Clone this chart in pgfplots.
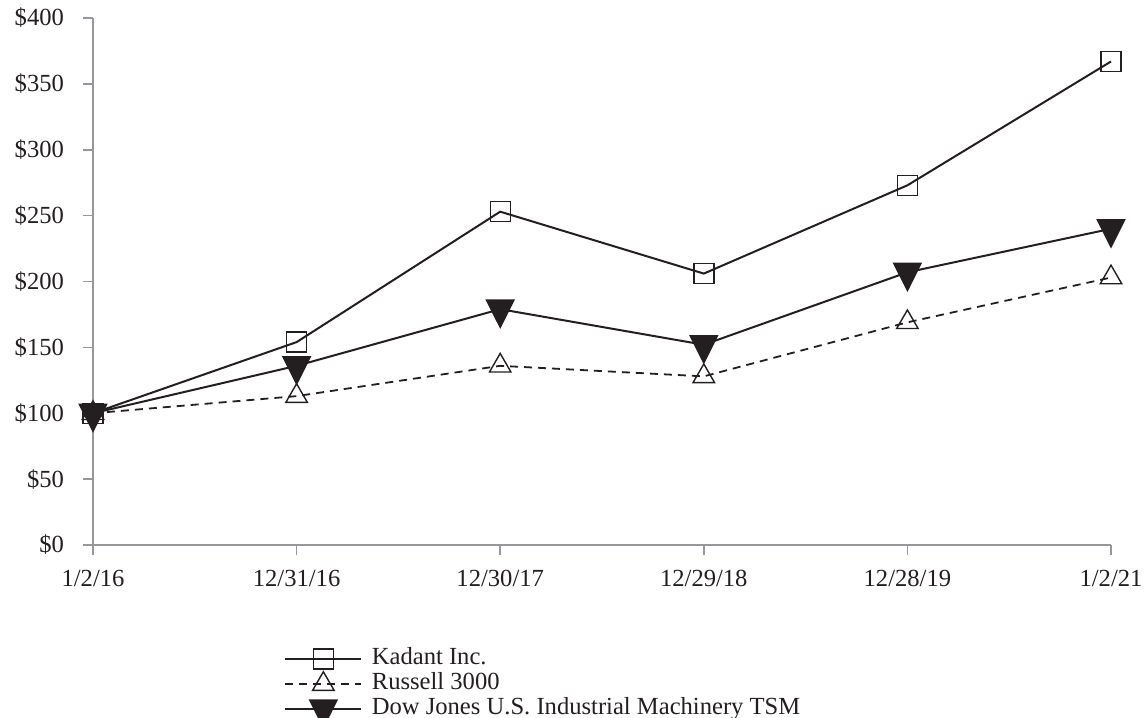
\documentclass[border=0pt]{standalone}
\usepackage{pgfplots}
\pgfplotsset{compat=1.18}
\usepackage{fontspec}
\setmainfont{Liberation Serif}
\definecolor{ink}{RGB}{35,31,32}
\definecolor{axisgray}{RGB}{150,150,155}

\begin{document}
\begin{tikzpicture}
\begin{axis}[
    at={(0pt,0pt)}, anchor=south west,
    scale only axis, width=509pt, height=263.5pt,
    xmin=0, xmax=5, ymin=0, ymax=400,
    axis x line=bottom, axis y line=left,
    axis line style={-, axisgray, line width=0.8pt},
    tick style={axisgray, line width=0.8pt},
    tick align=outside, major tick length=5pt,
    xtick={0,...,5},
    xticklabels={1/2/16,12/31/16,12/30/17,12/29/18,12/28/19,1/2/21},
    ytick={0,50,...,400},
    yticklabels={\$0,\$50,\$100,\$150,\$200,\$250,\$300,\$350,\$400},
    ticklabel style={font=\fontsize{12.3}{14}\selectfont, text=ink},
    yticklabel style={xshift=-6pt},
    xticklabel style={yshift=-4pt},
    clip=false,
    legend style={draw=none, fill=none, at={(0.1817,-0.1845)}, anchor=north west,
        font=\fontsize{12.3}{14}\selectfont, text=ink,
        nodes={inner sep=1.25pt, text height=7.5pt, text depth=2.5pt},
        /tikz/every odd column/.append style={column sep=3.5pt},
        row sep=0pt},
    legend cell align=left,
    legend image code/.code={
        \draw[mark repeat=2, mark phase=2, #1]
            plot coordinates {(0pt,0pt) (19pt,0pt) (38pt,0pt)};
    },
]
% Kadant Inc.
\addplot[ink, line width=1pt, mark=square, mark size=5pt,
    mark options={solid, line width=0.7pt}]
    coordinates {(0,100) (1,154) (2,253) (3,206) (4,273) (5,367)};
\addlegendentry{Kadant Inc.}
% Russell 3000
\addplot[ink, line width=0.9pt, dash pattern=on 4pt off 3pt, mark=triangle, mark size=6.2pt,
    mark options={solid, line width=0.7pt}]
    coordinates {(0,100) (1,113) (2,136) (3,128) (4,169) (5,203)};
\addlegendentry{Russell 3000}
% Dow Jones U.S. Industrial Machinery TSM
\addplot[ink, line width=1pt, mark=triangle*, mark size=7.6pt,
    mark options={solid, fill=ink, rotate=180, yscale=1.15}]
    coordinates {(0,100) (1,136) (2,179) (3,152) (4,207) (5,240)};
\addlegendentry{Dow Jones U.S. Industrial Machinery TSM}
\end{axis}
\pgfresetboundingbox
\path (-46.5pt,-86pt) rectangle (525.5pt,272.5pt);
\end{tikzpicture}
\end{document}
